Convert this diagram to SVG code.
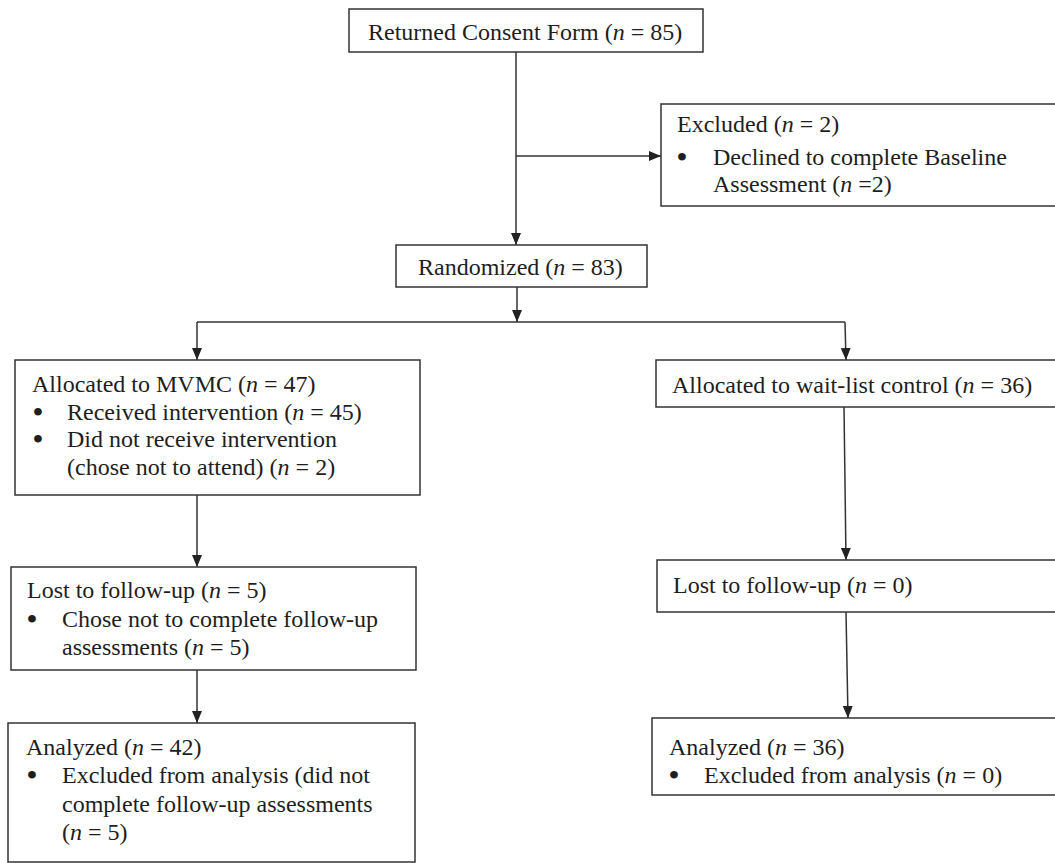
<svg xmlns="http://www.w3.org/2000/svg" width="1055" height="863" viewBox="0 0 1055 863">
<style>
.box{fill:#fff;stroke:#333;stroke-width:1.5}
.t{font-family:"Liberation Serif","Times New Roman",serif;font-size:24px;fill:#1e1e1e}
.b{font-family:"Liberation Serif","Times New Roman",serif;font-size:24px;fill:#1e1e1e;stroke:#1e1e1e;stroke-width:2;text-anchor:middle}
.i{font-style:italic}
.c{fill:none;stroke:#333;stroke-width:1.5}
</style>
<defs>
<marker id="arr" markerUnits="userSpaceOnUse" markerWidth="12" markerHeight="12" viewBox="0 0 12 12" refX="12" refY="6" orient="auto">
<path d="M0,1 L12,6 L0,11 Z" fill="#222"/>
</marker>
</defs>
<rect width="1055" height="863" fill="#fff"/>
<g id="connectors">
<line class="c" x1="516" y1="52" x2="516" y2="245" marker-end="url(#arr)"/>
<line class="c" x1="516" y1="156" x2="661" y2="156" marker-end="url(#arr)"/>
<line class="c" x1="517" y1="287" x2="517" y2="322" marker-end="url(#arr)"/>
<polyline class="c" points="197,322 845,322"/>
<line class="c" x1="197" y1="322" x2="197" y2="360" marker-end="url(#arr)"/>
<line class="c" x1="845" y1="322" x2="846" y2="360" marker-end="url(#arr)"/>
<line class="c" x1="197" y1="495" x2="197" y2="567" marker-end="url(#arr)"/>
<line class="c" x1="197" y1="670" x2="197" y2="723" marker-end="url(#arr)"/>
<line class="c" x1="844" y1="407" x2="846" y2="560" marker-end="url(#arr)"/>
<line class="c" x1="846" y1="612" x2="848" y2="718" marker-end="url(#arr)"/>
</g>
<g id="consent">
<rect class="box" x="349" y="9" width="354" height="43"/>
<text class="t" x="368" y="40">Returned Consent Form (<tspan class="i">n</tspan> = 85)</text>
</g>
<g id="excluded">
<rect class="box" x="661" y="104" width="400" height="102"/>
<text class="t" x="677" y="132">Excluded (<tspan class="i">n</tspan> = 2)</text>
<text class="b" x="682" y="165">•</text>
<text class="t" x="713" y="165">Declined to complete Baseline</text>
<text class="t" x="713" y="192">Assessment (<tspan class="i">n</tspan> =2)</text>
</g>
<g id="randomized">
<rect class="box" x="396" y="245" width="251" height="42"/>
<text class="t" x="418" y="275">Randomized (<tspan class="i">n</tspan> = 83)</text>
</g>
<g id="mvmc">
<rect class="box" x="15" y="360" width="405" height="135"/>
<text class="t" x="32" y="392">Allocated to MVMC (<tspan class="i">n</tspan> = 47)</text>
<text class="b" x="38" y="420">•</text>
<text class="t" x="67" y="420">Received intervention (<tspan class="i">n</tspan> = 45)</text>
<text class="b" x="38" y="447">•</text>
<text class="t" x="67" y="447">Did not receive intervention</text>
<text class="t" x="67" y="475">(chose not to attend) (<tspan class="i">n</tspan> = 2)</text>
</g>
<g id="waitlist">
<rect class="box" x="656" y="360" width="410" height="47"/>
<text class="t" x="672" y="393">Allocated to wait-list control (<tspan class="i">n</tspan> = 36)</text>
</g>
<g id="lost-mvmc">
<rect class="box" x="11" y="567" width="405" height="103"/>
<text class="t" x="27" y="598">Lost to follow-up (<tspan class="i">n</tspan> = 5)</text>
<text class="b" x="32" y="627">•</text>
<text class="t" x="62" y="627">Chose not to complete follow-up</text>
<text class="t" x="62" y="655">assessments (<tspan class="i">n</tspan> = 5)</text>
</g>
<g id="lost-waitlist">
<rect class="box" x="657" y="560" width="410" height="52"/>
<text class="t" x="673" y="593">Lost to follow-up (<tspan class="i">n</tspan> = 0)</text>
</g>
<g id="analyzed-mvmc">
<rect class="box" x="8" y="723" width="407" height="139"/>
<text class="t" x="26" y="755">Analyzed (<tspan class="i">n</tspan> = 42)</text>
<text class="b" x="32" y="783">•</text>
<text class="t" x="62" y="783">Excluded from analysis (did not</text>
<text class="t" x="62" y="812">complete follow-up assessments</text>
<text class="t" x="62" y="840">(<tspan class="i">n</tspan> = 5)</text>
</g>
<g id="analyzed-waitlist">
<rect class="box" x="652" y="718" width="410" height="77"/>
<text class="t" x="669" y="755">Analyzed (<tspan class="i">n</tspan> = 36)</text>
<text class="b" x="674" y="783">•</text>
<text class="t" x="704" y="783">Excluded from analysis (<tspan class="i">n</tspan> = 0)</text>
</g>
</svg>
